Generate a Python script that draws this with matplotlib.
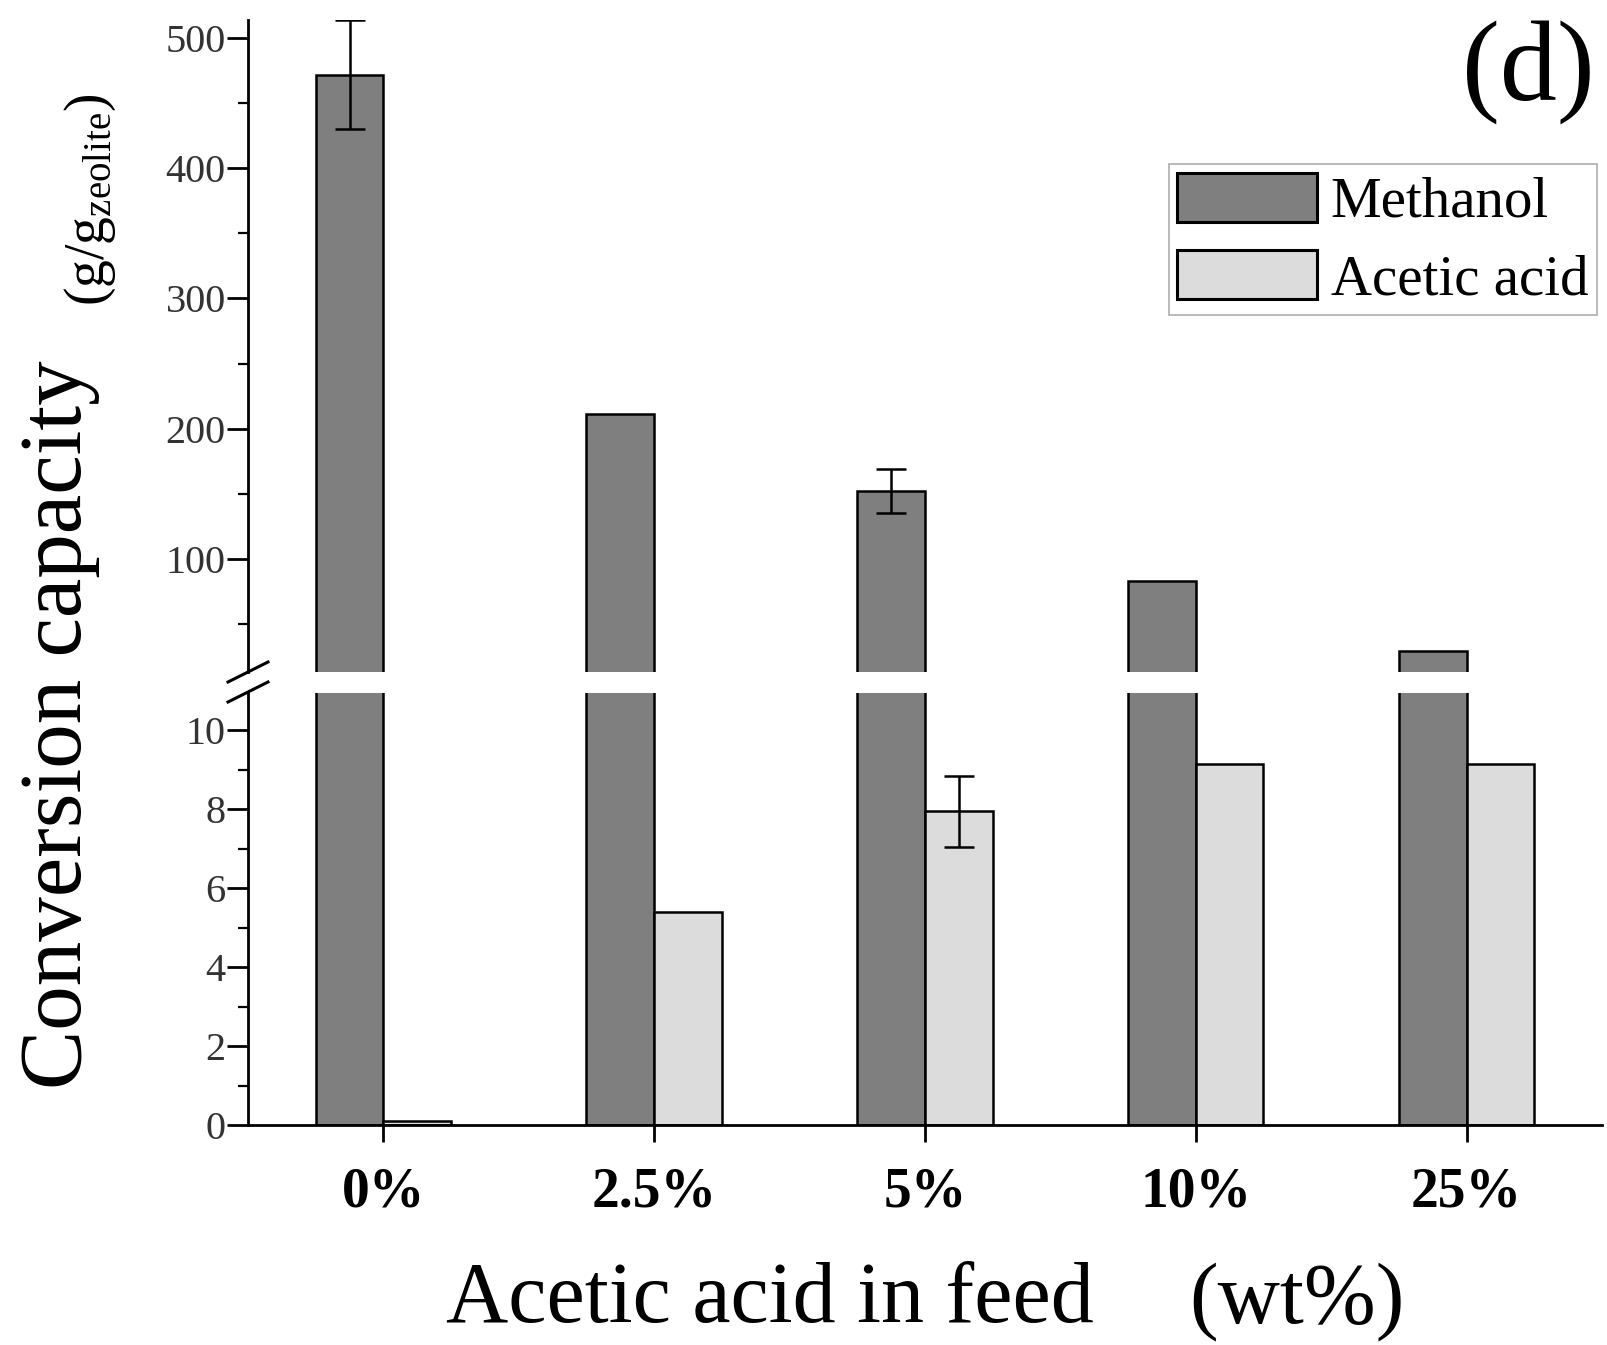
import numpy as np
import matplotlib
matplotlib.use("Agg")
import matplotlib.pyplot as plt
from matplotlib.patches import Patch
from matplotlib.lines import Line2D
from matplotlib.ticker import MultipleLocator

plt.rcParams["font.family"] = ["Liberation Serif", "DejaVu Serif"]
plt.rcParams["mathtext.fontset"] = "custom"
plt.rcParams["mathtext.rm"] = "Liberation Serif"
plt.rcParams["mathtext.it"] = "Liberation Serif:italic"

# data
categories = ["0%", "2.5%", "5%", "10%", "25%"]
methanol = np.array([472, 211, 152, 83, 29])
methanol_err = np.array([42, 0, 17, 0, 0])
acetic = np.array([0.1, 5.4, 7.95, 9.15, 9.15])
acetic_err = np.array([0, 0, 0.9, 0, 0])

dark = "#7f7f7f"
light = "#dcdcdc"
W, H = 1608, 1345
fig = plt.figure(figsize=(W / 100, H / 100), dpi=100)

left = 248 / W
width = (1602 - 248) / W
ax_top = fig.add_axes([left, 1 - 672 / H, width, (672 - 20) / H])
ax_bot = fig.add_axes([left, 1 - 1125 / H, width, (1125 - 693) / H])

x = np.arange(len(categories))
bw = 0.25
for ax in (ax_top, ax_bot):
    ax.bar(x - bw / 2, methanol, bw, color=dark, edgecolor="black", linewidth=1.8)
    ax.bar(x + bw / 2, acetic, bw, color=light, edgecolor="black", linewidth=1.8)
    ax.set_xlim(-0.5, 4.5)
    ax.spines["top"].set_visible(False)
    ax.spines["right"].set_visible(False)
    ax.spines["left"].set_linewidth(2)
    ax.spines["bottom"].set_linewidth(2)
    ax.tick_params(axis="y", which="major", length=15, width=2, pad=1,
                   labelsize=29, labelcolor="#333333")
    ax.tick_params(axis="y", which="minor", length=7, width=1.6)

# error bars only where an error was drawn
m = methanol_err > 0
ax_top.errorbar(x[m] - bw / 2, methanol[m], yerr=methanol_err[m], fmt="none",
                ecolor="black", elinewidth=1.8, capsize=11, capthick=1.8)
a = acetic_err > 0
ax_bot.errorbar(x[a] + bw / 2, acetic[a], yerr=acetic_err[a], fmt="none",
                ecolor="black", elinewidth=1.8, capsize=11, capthick=1.8)

ax_top.set_ylim(13, 514)
ax_top.set_yticks([100, 200, 300, 400, 500])
ax_top.yaxis.set_minor_locator(MultipleLocator(50))
ax_top.spines["bottom"].set_visible(False)
ax_top.tick_params(axis="x", bottom=False, labelbottom=False)

ax_bot.set_ylim(0, 10.94)
ax_bot.set_yticks([0, 2, 4, 6, 8, 10])
ax_bot.yaxis.set_minor_locator(MultipleLocator(1))
ax_bot.set_xticks(x)
ax_bot.set_xticklabels(categories, fontweight="bold", fontsize=40)
ax_bot.tick_params(axis="x", length=12, width=2, pad=18)

# break marks on the y axis
for yc in (672, 692):
    fig.add_artist(Line2D([228 / W, 268 / W], [1 - (yc + 10) / H, 1 - (yc - 10) / H],
                          color="black", linewidth=2.2))

# axis labels
fig.text(60 / W, 1 - 725 / H, "Conversion capacity", rotation=90,
         ha="center", va="center", fontsize=64)
fig.text(90 / W, 1 - 200 / H, r"$\mathrm{(g/g_{zeolite})}$", rotation=90,
         ha="center", va="center", fontsize=40)
fig.text(446 / W, 1 - 1322 / H, "Acetic acid in feed", ha="left", va="baseline",
         fontsize=62)
fig.text(1405 / W, 1 - 1322 / H, "(wt%)", ha="right", va="baseline", fontsize=62)
fig.text(1528 / W, 1 - 72 / H, "(d)", ha="center", va="center", fontsize=82)

handles = [Patch(facecolor=dark, edgecolor="black", linewidth=2.2, label="Methanol"),
           Patch(facecolor=light, edgecolor="black", linewidth=2.2, label="Acetic acid")]
leg = fig.legend(handles=handles, loc="upper right",
                 bbox_to_anchor=(1597 / W, 1 - 164 / H), borderaxespad=0,
                 fontsize=41, handlelength=2.45, handleheight=0.95,
                 handletextpad=0.25, labelspacing=0.38, borderpad=0.15,
                 fancybox=False, frameon=True)
leg.get_frame().set_edgecolor("#999999")
leg.get_frame().set_linewidth(1.2)

fig.savefig("out.png", dpi=100)
